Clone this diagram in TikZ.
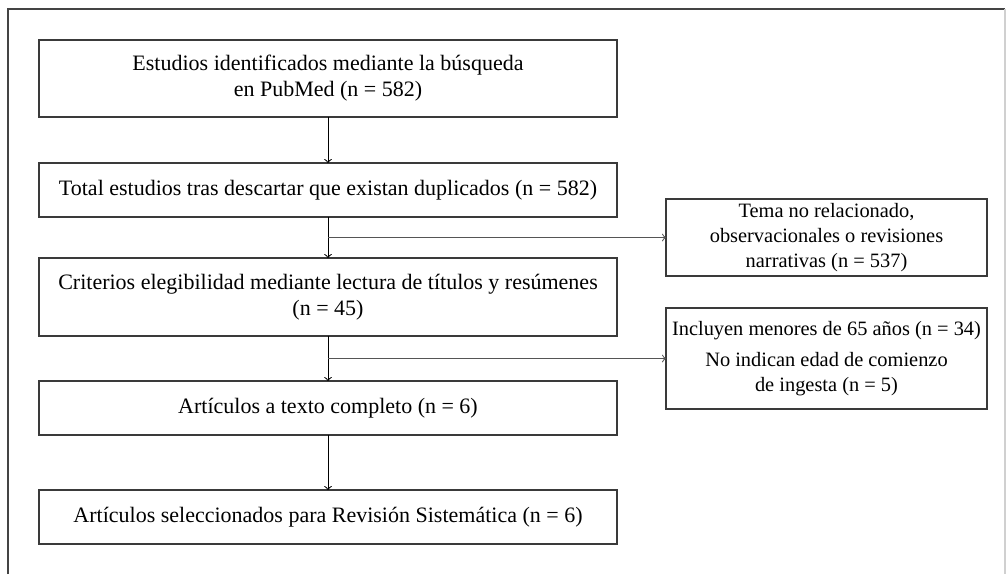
\documentclass[tikz,border=0pt]{standalone}
\usepackage{fontspec}
\setmainfont{Liberation Serif}
\usetikzlibrary{positioning}
\definecolor{boxGray}{HTML}{3A3A3A}
\definecolor{lineGray}{HTML}{555555}
\definecolor{frameGray}{HTML}{444444}
\definecolor{edgeGray}{HTML}{D0D0D0}
\tikzset{
    mainBox/.style={draw=boxGray, line width=0.6pt, minimum width=289pt, inner sep=0pt, outer sep=0pt,
        align=center, font=\fontsize{11}{13}\selectfont},
    sideBox/.style={mainBox, minimum width=160.5pt, font=\fontsize{10.2}{12.5}\selectfont},
    flowArrow/.style={draw=black, line width=0.5pt, ->},
    branchLine/.style={draw=lineGray, line width=0.5pt, ->}
}

\begin{document}
\begin{tikzpicture}[x=0.5pt, y=-0.5pt]
			\useasboundingbox (0,0) rectangle (1007,574);
			\draw[frameGray, line width=1pt] (8,574) -- (8,9) -- (1005,9);
			\draw[edgeGray, line width=0.8pt] (1005,9) -- (1005,574);
			% main column
			\node[mainBox, minimum height=38.5pt] (busqueda) at (328,78.5) {Estudios identificados mediante la búsqueda\\en PubMed (n = 582)};
			\node[mainBox, minimum height=27pt] (duplicados) at (328,190) {Total estudios tras descartar que existan duplicados (n = 582)};
			\node[mainBox, minimum height=39pt] (criterios) at (328,297) {Criterios elegibilidad mediante lectura de títulos y resúmenes\\(n = 45)};
			\node[mainBox, minimum height=27pt] (completo) at (328,408) {Artículos a texto completo (n = 6)};
			\node[mainBox, minimum height=27pt] (seleccion) at (328,517) {Artículos seleccionados para Revisión Sistemática (n = 6)};
			% excluded
			\node[sideBox, minimum height=38.5pt] (tema) at (826.5,237.5) {Tema no relacionado,\\observacionales o revisiones\\narrativas (n = 537)};
			\node[sideBox, minimum height=50.5pt] (edad) at (826.5,358.5) {Incluyen menores de 65 años (n = 34)\\[3pt]No indican edad de comienzo\\de ingesta (n = 5)};
			\coordinate (ramaTema) at (duplicados.south |- tema.west);
			\coordinate (ramaEdad) at (criterios.south |- edad.west);
			\draw[flowArrow] (busqueda) -- (duplicados);
			\draw[flowArrow] (duplicados) -- (criterios);
			\draw[flowArrow] (criterios) -- (completo);
			\draw[flowArrow] (completo) -- (seleccion);
			\draw[branchLine] (ramaTema) -- (tema.west);
			\draw[branchLine] (ramaEdad) -- (edad.west);
		\end{tikzpicture}
\end{document}
